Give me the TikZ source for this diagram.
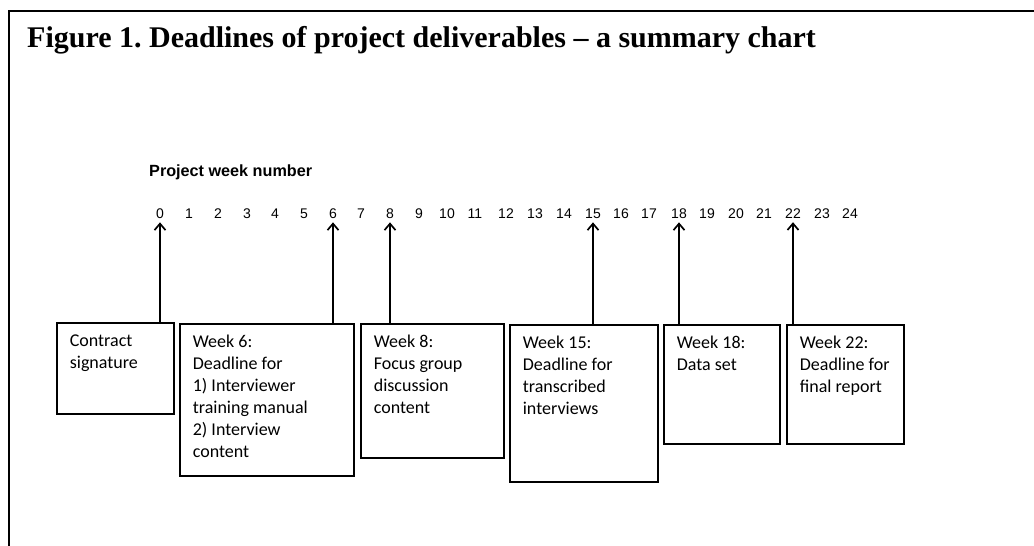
\documentclass[tikz,border=0pt]{standalone}
\usepackage{fontspec}
\setmainfont{Liberation Serif}
\newfontfamily\arialfont{Liberation Sans}
\newfontfamily\calfont{Carlito}
\usetikzlibrary{arrows.meta}
\frenchspacing
\newcommand{\boxtext}[3]{\begin{minipage}[t][#2pt][t]{#1pt}\raggedright\leftskip=13pt\rule{0pt}{24pt}#3\end{minipage}}
\tikzset{
  frameline/.style={line width=1.8pt, line cap=rect},
  deliv/.style={draw, line width=1.7pt, inner sep=0pt, anchor=north west,
     font=\calfont\fontsize{18}{22}\selectfont},
  weeknum/.style={inner sep=0pt, anchor=base, font=\arialfont\fontsize{14}{16}\selectfont},
  pointer/.style={line width=1.7pt, -{Straight Barb[length=6.5pt,width=11pt,line width=1.7pt]}, shorten >=4pt},
}
\begin{document}
\begin{tikzpicture}[x=1pt,y=-1pt]
\useasboundingbox (0,0) rectangle (1034,546);
% frame
\coordinate (fb) at (9,548);
\coordinate (fc) at (9,11);
\coordinate (fr) at (1036,11);
\draw[frameline] (fb) -- (fc) -- (fr);
% title
\node[anchor=base west, inner sep=0pt, font=\bfseries\fontsize{30}{34}\selectfont] (title) at (27,47)
  {Figure 1. Deadlines of project deliverables -- a summary chart};
% axis label
\node[anchor=base west, inner sep=0pt, font=\arialfont\bfseries\fontsize{16.2}{19}\selectfont] (lbl) at (149,176.5)
  {Project week number};
% week numbers
\foreach \i/\x in {0/160,1/189,2/218,3/247,4/275,5/304,6/333,7/361,8/390,9/419,10/447,11/475,12/506,13/535,14/564,15/593,16/621,17/649,18/679,19/707,20/736,21/764,22/793,23/822,24/850}
  \node[weeknum] (n\i) at (\x,218) {\i};
% deliverable boxes
\node[deliv] (b0) at (56,322) {\boxtext{117}{91}{Contract\\signature}};
\node[deliv] (b6) at (179,323) {\boxtext{174}{152}{Week 6:\\Deadline for\\1) Interviewer\\training manual\\2) Interview\\content}};
\node[deliv] (b8) at (360,323) {\boxtext{143}{134}{Week 8:\\Focus group\\discussion\\content}};
\node[deliv] (b15) at (509,324) {\boxtext{148}{157}{Week 15:\\Deadline for\\transcribed\\interviews}};
\node[deliv] (b18) at (663,324) {\boxtext{116}{119}{Week 18:\\Data set}};
\node[deliv] (b22) at (786,324) {\boxtext{117}{119}{Week 22:\\Deadline for\\final report}};
% arrows
\foreach \b/\n in {b0/n0,b6/n6,b8/n8,b15/n15,b18/n18,b22/n22}
  \draw[pointer] (\b.north -| \n.south) -- (\n.south);
\end{tikzpicture}
\end{document}
